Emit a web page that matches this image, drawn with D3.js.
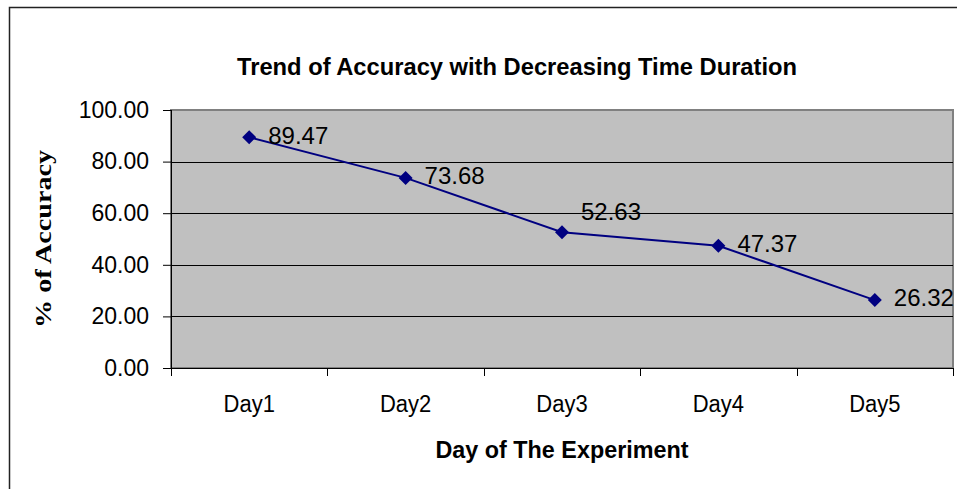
<!DOCTYPE html>
<html>
<head>
<meta charset="utf-8">
<script src="https://cdn.jsdelivr.net/npm/d3@7"></script>
<style>
  body { margin: 0; background: #fff; }
  text { font-family: "Liberation Sans", Arial, sans-serif; }
</style>
</head>
<body>
<div id="chart"></div>
<script>
// accuracy per day of the experiment
const days = ["Day1", "Day2", "Day3", "Day4", "Day5"];
const accuracy = [89.47, 73.68, 52.63, 47.37, 26.32];
const yTicks = [0, 20, 40, 60, 80, 100];

const W = 957, H = 489;
const margin = { top: 110, right: 4, bottom: 121, left: 171 };
const width = W - margin.left - margin.right;
const height = H - margin.top - margin.bottom;

const svg = d3.select("#chart")
  .append("svg")
  .attr("width", W)
  .attr("height", H);

// outer chart border (runs off the right and bottom of the picture)
svg.append("rect")
  .attr("x", 9.5).attr("y", 7.5)
  .attr("width", 1100).attr("height", 700)
  .attr("fill", "#fff")
  .attr("stroke", "#222")
  .attr("stroke-width", 1.5);

const g = svg.append("g")
  .attr("transform", `translate(${margin.left},${margin.top})`);

const x = d3.scaleBand()
  .domain(days)
  .range([0, width])
  .padding(0);

const y = d3.scaleLinear()
  .domain([0, 100])
  .range([height, 0]);

// plot area
g.append("rect")
  .attr("width", width)
  .attr("height", height)
  .attr("fill", "#c0c0c0")
  .attr("stroke", "#808080")
  .attr("stroke-width", 2);

// gridlines
g.selectAll(".grid")
  .data(yTicks.filter(d => d > 0 && d < 100))
  .enter()
  .append("line")
  .attr("x1", 0).attr("x2", width)
  .attr("y1", d => Math.round(y(d)) + 0.5)
  .attr("y2", d => Math.round(y(d)) + 0.5)
  .attr("stroke", "#000")
  .attr("stroke-width", 1);

// y axis
const yAxis = g.append("g")
  .call(d3.axisLeft(y).tickValues(yTicks).tickFormat(d3.format(".2f")).tickSize(8).tickPadding(14).tickSizeOuter(0));
yAxis.select(".domain").remove();
yAxis.selectAll("text")
  .style("font-family", "Liberation Sans, Arial, sans-serif")
  .style("font-size", "23px")
  .attr("fill", "#000");

g.append("line")
  .attr("x1", 0.5).attr("x2", 0.5)
  .attr("y1", 0).attr("y2", height + 8)
  .attr("stroke", "#000");

// x axis: labels centred in bands, ticks on band edges
g.append("line")
  .attr("x1", 0).attr("x2", width)
  .attr("y1", height + 0.5).attr("y2", height + 0.5)
  .attr("stroke", "#000");

const edges = days.map(d => x(d)).concat([width]);
g.selectAll(".xtick")
  .data(edges)
  .enter()
  .append("line")
  .attr("x1", d => Math.round(d) + 0.5)
  .attr("x2", d => Math.round(d) + 0.5)
  .attr("y1", height).attr("y2", height + 8)
  .attr("stroke", "#000");

g.selectAll(".xlabel")
  .data(days)
  .enter()
  .append("text")
  .attr("transform", d => `translate(${x(d) + x.bandwidth() / 2},${height + 44}) scale(1,1.12)`)
  .attr("text-anchor", "middle")
  .style("font-size", "22px")
  .text(d => d);

// series
const points = days.map((d, i) => ({ day: d, value: accuracy[i] }));
const cx = d => x(d.day) + x.bandwidth() / 2;

g.append("path")
  .datum(points)
  .attr("fill", "none")
  .attr("stroke", "#000080")
  .attr("stroke-width", 2)
  .attr("d", d3.line().x(cx).y(d => y(d.value)));

g.selectAll(".marker")
  .data(points)
  .enter()
  .append("path")
  .attr("transform", d => `translate(${cx(d)},${y(d.value)})`)
  .attr("d", "M0,-7L7,0L0,7L-7,0Z")
  .attr("fill", "#000080");

// data labels (Day3 label sits higher, as in the original)
const raisedLabels = ["Day3"];
g.selectAll(".dlabel")
  .data(points)
  .enter()
  .append("text")
  .attr("x", d => cx(d) + 19)
  .attr("y", d => y(d.value) + (raisedLabels.includes(d.day) ? -21 : -2))
  .attr("dy", "0.35em")
  .style("font-size", "24px")
  .text(d => d.value.toFixed(2));

// title
svg.append("text")
  .attr("x", 517)
  .attr("y", 75)
  .attr("text-anchor", "middle")
  .style("font-size", "23px")
  .style("font-weight", "bold")
  .attr("textLength", 560)
  .attr("lengthAdjust", "spacingAndGlyphs")
  .text("Trend of Accuracy with Decreasing Time Duration");

// axis titles
svg.append("text")
  .attr("x", margin.left + width / 2)
  .attr("y", 458)
  .attr("text-anchor", "middle")
  .style("font-size", "23px")
  .style("font-weight", "bold")
  .attr("textLength", 253)
  .attr("lengthAdjust", "spacingAndGlyphs")
  .text("Day of The Experiment");

svg.append("text")
  .attr("transform", `translate(51,${margin.top + height / 2}) rotate(-90)`)
  .attr("text-anchor", "middle")
  .style("font-family", "Liberation Serif, Times New Roman, serif")
  .style("font-size", "24px")
  .style("font-weight", "bold")
  .attr("textLength", 178)
  .attr("lengthAdjust", "spacingAndGlyphs")
  .text("% of Accuracy");
</script>
</body>
</html>
